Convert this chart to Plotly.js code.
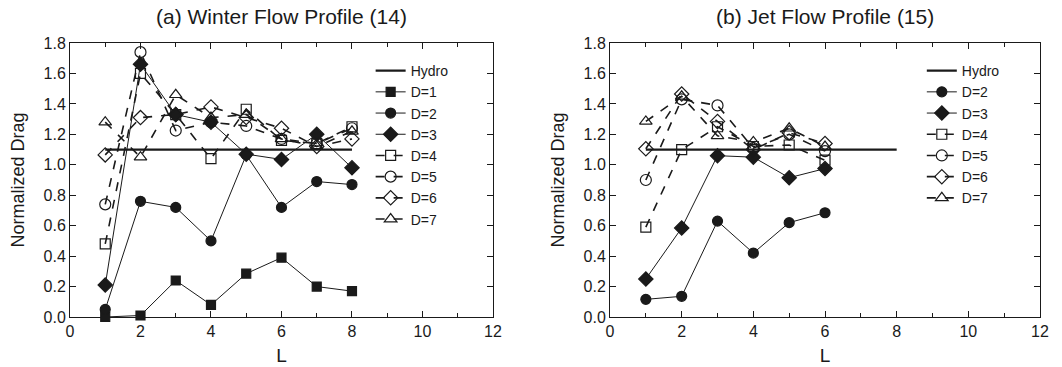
<!DOCTYPE html>
<html><head><meta charset="utf-8">
<script src="https://cdn.plot.ly/plotly-3.0.1.min.js"></script>
<style>html,body{margin:0;padding:0;background:#fff}</style>
</head><body><div id="chart" style="width:1062px;height:367px"></div>
<script>
// Panel (a) Winter Flow Profile (14)
const L_a = [1,2,3,4,5,6,7,8];
const hydroL = [1,8];
const hydroVal = [1.10,1.10];
const a_D1 = [0.00,0.01,0.24,0.08,0.285,0.39,0.20,0.17];
const a_D2 = [0.05,0.76,0.72,0.50,1.065,0.72,0.89,0.87];
const a_D3 = [0.21,1.66,1.33,1.28,1.07,1.035,1.20,0.98];
const a_D4 = [0.48,1.60,1.33,1.04,1.365,1.16,1.14,1.25];
const a_D5 = [0.74,1.74,1.225,1.28,1.255,1.17,1.14,1.24];
const a_D6 = [1.065,1.31,1.33,1.38,1.31,1.24,1.12,1.17];
const a_D7 = [1.28,1.05,1.46,1.31,1.33,1.17,1.12,1.22];
// Panel (b) Jet Flow Profile (15)
const L_b = [1,2,3,4,5,6];
const b_D2 = [0.116,0.136,0.63,0.42,0.62,0.685];
const b_D3 = [0.25,0.585,1.06,1.05,0.915,0.975];
const b_D4 = [0.59,1.10,1.25,1.12,1.13,1.03];
const b_D5 = [0.90,1.43,1.39,1.11,1.20,1.09];
const b_D6 = [1.105,1.465,1.285,1.10,1.21,1.14];
const b_D7 = [1.285,1.45,1.19,1.15,1.24,1.12];

const INK = '#1a1a1a';
const styles = {
  D1:{sym:'square', dash:'solid', w:1, size:9},
  D2:{sym:'circle', dash:'solid', w:1, size:10},
  D3:{sym:'diamond', dash:'solid', w:1, size:11},
  D4:{sym:'square-open', dash:'dash', w:1.6, size:10},
  D5:{sym:'circle-open', dash:'dash', w:1.6, size:11},
  D6:{sym:'diamond-open', dash:'dash', w:1.6, size:11},
  D7:{sym:'triangle-up-open', dash:'dash', w:1.6, size:11}
};
function tr(x, y, name, key, xa, ya, leg){
  const s = styles[key];
  return {x:x, y:y, name:name, type:'scatter', mode:'lines+markers', xaxis:xa, yaxis:ya, legend:leg,
    cliponaxis:false,
    line:{color:INK, width:s.w, dash:s.dash},
    marker:{symbol:s.sym, size:s.size, color:INK, line:{color:INK, width:1.2}}};
}
function hydro(xa, ya, leg){
  return {x:hydroL, y:hydroVal, name:'Hydro', type:'scatter', mode:'lines', xaxis:xa, yaxis:ya, legend:leg,
    line:{color:INK, width:2.2}};
}
const data = [
  hydro('x','y','legend'),
  tr(L_a,a_D1,'D=1','D1','x','y','legend'),
  tr(L_a,a_D2,'D=2','D2','x','y','legend'),
  tr(L_a,a_D3,'D=3','D3','x','y','legend'),
  tr(L_a,a_D4,'D=4','D4','x','y','legend'),
  tr(L_a,a_D5,'D=5','D5','x','y','legend'),
  tr(L_a,a_D6,'D=6','D6','x','y','legend'),
  tr(L_a,a_D7,'D=7','D7','x','y','legend'),
  hydro('x2','y2','legend2'),
  tr(L_b,b_D2,'D=2','D2','x2','y2','legend2'),
  tr(L_b,b_D3,'D=3','D3','x2','y2','legend2'),
  tr(L_b,b_D4,'D=4','D4','x2','y2','legend2'),
  tr(L_b,b_D5,'D=5','D5','x2','y2','legend2'),
  tr(L_b,b_D6,'D=6','D6','x2','y2','legend2'),
  tr(L_b,b_D7,'D=7','D7','x2','y2','legend2')
];
const FONT = 'Liberation Sans, Arial, Helvetica, sans-serif';
function xax(dom, anchor){
  return {domain:dom, anchor:anchor, range:[0,12], dtick:2, tick0:0, ticks:'inside', ticklen:6, tickcolor:INK,
    minor:{dtick:1, ticks:'inside', ticklen:4, tickcolor:INK},
    showline:true, linecolor:INK, linewidth:1, mirror:'ticks', showgrid:false, zeroline:false,
    tickfont:{size:16, color:INK, family:FONT},
    title:{text:'L', font:{size:19, color:INK, family:FONT}, standoff:9}};
}
function yax(anchor){
  return {domain:[0.1362,0.8828], anchor:anchor, range:[0,1.8], dtick:0.2, tick0:0, tickformat:'.1f',
    ticks:'inside', ticklen:6, tickcolor:INK, showline:true, linecolor:INK, linewidth:1, mirror:'ticks',
    showgrid:false, zeroline:false, tickfont:{size:16, color:INK, family:FONT},
    title:{text:'Normalized Drag', font:{size:18, color:INK, family:FONT}, standoff:14}};
}
const layout = {
  width:1062, height:367, margin:{l:0,r:0,t:0,b:0}, paper_bgcolor:'#fff', plot_bgcolor:'#fff',
  font:{family:FONT, color:INK},
  xaxis: xax([0.0659,0.4642],'y'),
  yaxis: yax('x'),
  xaxis2: xax([0.5744,0.9793],'y2'),
  yaxis2: yax('x2'),
  showlegend:true,
  legend:{x:0.349, y:0.85, xanchor:'left', yanchor:'top', bgcolor:'rgba(0,0,0,0)', borderwidth:0,
    font:{size:14, family:FONT, color:INK}, tracegroupgap:0, itemwidth:30},
  legend2:{x:0.868, y:0.85, xanchor:'left', yanchor:'top', bgcolor:'rgba(0,0,0,0)', borderwidth:0,
    font:{size:14, family:FONT, color:INK}, tracegroupgap:0, itemwidth:30},
  annotations:[
    {text:'(a) Winter Flow Profile (14)', x:0.265, y:1, xref:'paper', yref:'paper', xanchor:'center', yanchor:'top', yshift:-3, showarrow:false, font:{size:21, family:FONT, color:INK}},
    {text:'(b) Jet Flow Profile (15)', x:0.777, y:1, xref:'paper', yref:'paper', xanchor:'center', yanchor:'top', yshift:-3, showarrow:false, font:{size:21, family:FONT, color:INK}}
  ]
};
Plotly.newPlot('chart', data, layout, {staticPlot:true, displayModeBar:false});
</script></body></html>
